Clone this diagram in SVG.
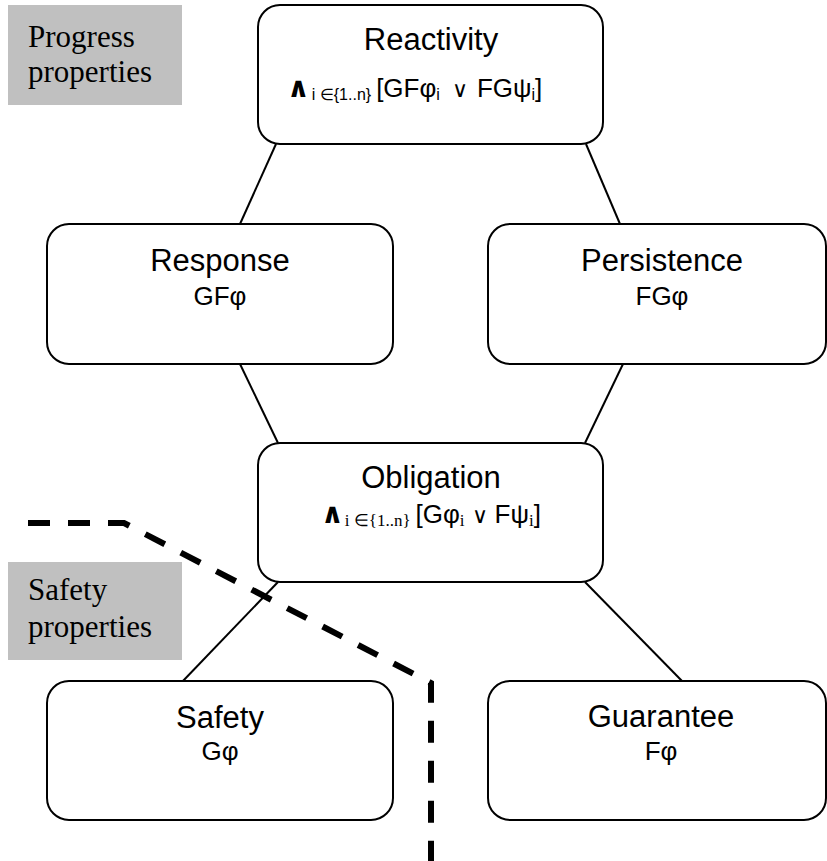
<svg xmlns="http://www.w3.org/2000/svg" width="827" height="861" viewBox="0 0 827 861">
  <style>
    .box { fill: #ffffff; stroke: #000000; stroke-width: 2; }
    .edge { stroke: #000000; stroke-width: 2; fill: none; }
    .border { stroke: #000000; stroke-width: 6; fill: none; stroke-dasharray: 22 18; }
    .tag { fill: #c0c0c0; }
    .tagtext { font-family: "Liberation Serif", "Times New Roman", serif; font-size: 31px; fill: #000; }
    .title { font-family: "Liberation Sans", Arial, sans-serif; font-size: 31px; fill: #000; text-anchor: middle; }
    .sub { font-family: "Liberation Sans", Arial, sans-serif; font-size: 26px; fill: #000; text-anchor: middle; }
    .formula { font-family: "Liberation Sans", Arial, sans-serif; font-size: 26px; fill: #000; }
    .fs { font-family: "Liberation Sans", Arial, sans-serif; font-size: 16px; }
    .fss { font-family: "Liberation Serif", "Times New Roman", serif; font-size: 17px; }
    .and { font-family: "DejaVu Sans", sans-serif; font-size: 28px; font-weight: bold; }
    .or { font-family: "DejaVu Sans", sans-serif; font-size: 22px; font-weight: 300; }
  </style>

  <!-- property class labels -->
  <g id="progress-label">
    <rect class="tag" x="8" y="5" width="174" height="100"/>
    <text class="tagtext" x="28" y="47">Progress</text>
    <text class="tagtext" x="28" y="82">properties</text>
  </g>
  <g id="safety-label">
    <rect class="tag" x="8" y="562" width="174" height="98"/>
    <text class="tagtext" x="28" y="600">Safety</text>
    <text class="tagtext" x="28" y="637">properties</text>
  </g>

  <!-- hierarchy links -->
  <g id="connectors">
    <line class="edge" x1="276" y1="144" x2="240" y2="224"/>
    <line class="edge" x1="586" y1="144" x2="620" y2="224"/>
    <line class="edge" x1="240" y1="364" x2="278" y2="443"/>
    <line class="edge" x1="623" y1="364" x2="585" y2="443"/>
    <line class="edge" x1="278" y1="582" x2="182" y2="682"/>
    <line class="edge" x1="585" y1="582" x2="682" y2="681"/>
  </g>

  <!-- boundary between progress and safety classes -->
  <polyline class="border" points="28,523 124,523 431,683 431,861"/>

  <g id="reactivity">
    <rect class="box" x="258" y="5" width="345" height="139" rx="22"/>
    <text class="title" x="431" y="50">Reactivity</text>
    <text class="formula" x="287" y="97" font-size="27"><tspan class="and">∧</tspan><tspan class="fs" dx="2" dy="3">i ∈{1..n}</tspan><tspan dx="5" dy="-3">[GFφ</tspan><tspan class="fs" dy="3">i</tspan><tspan class="or" dx="12" dy="-3">∨</tspan><tspan dx="9">FGψ</tspan><tspan class="fs" dy="3">i</tspan><tspan dy="-3">]</tspan></text>
  </g>

  <g id="response">
    <rect class="box" x="47" y="224" width="346" height="140" rx="22"/>
    <text class="title" x="220" y="271">Response</text>
    <text class="sub" x="220" y="305">GFφ</text>
  </g>

  <g id="persistence">
    <rect class="box" x="488" y="224" width="338" height="140" rx="22"/>
    <text class="title" x="662" y="271">Persistence</text>
    <text class="sub" x="662" y="305">FGφ</text>
  </g>

  <g id="obligation">
    <rect class="box" x="258" y="443" width="345" height="139" rx="22"/>
    <text class="title" x="431" y="488">Obligation</text>
    <text class="formula" x="321" y="523"><tspan class="and">∧</tspan><tspan class="fss" dx="1" dy="3">i ∈{1..n}</tspan><tspan dx="5" dy="-3">[Gφ</tspan><tspan class="fss" dy="3">i</tspan><tspan class="or" dx="7" dy="-3">∨</tspan><tspan dx="7">Fψ</tspan><tspan class="fss" dy="3">i</tspan><tspan dy="-3">]</tspan></text>
  </g>

  <g id="safety">
    <rect class="box" x="47" y="681" width="346" height="139" rx="22"/>
    <text class="title" x="220" y="728">Safety</text>
    <text class="sub" x="220" y="760">Gφ</text>
  </g>

  <g id="guarantee">
    <rect class="box" x="488" y="681" width="338" height="139" rx="22"/>
    <text class="title" x="661" y="727">Guarantee</text>
    <text class="sub" x="661" y="760">Fφ</text>
  </g>
</svg>
